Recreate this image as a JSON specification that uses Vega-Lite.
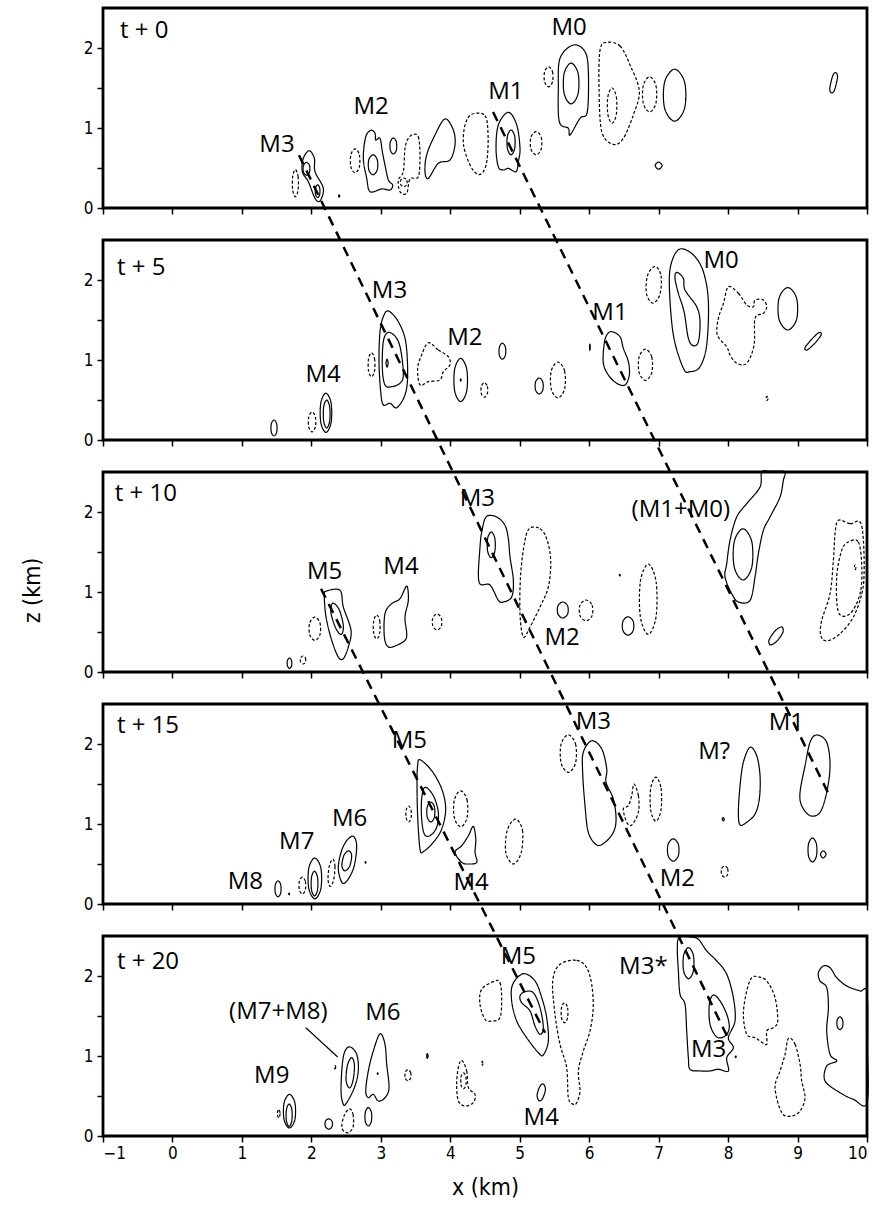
{
"$schema":"https://vega.github.io/schema/vega-lite/v6.json",
"width":764,"height":1128,
"autosize":{"type":"none"},
"padding":{"left":103,"top":8,"right":11,"bottom":69},
"config":{"view":{"stroke":null},"axis":{"grid":false,"domain":false,"ticks":true,"tickColor":"black","tickWidth":1.5,"tickSize":6,"labelFont":"'Liberation Sans Narrow', 'DejaVu Sans Condensed', 'Liberation Sans', sans-serif","labelFontSize":17,"labelColor":"black","labelPadding":4,"titleFont":"'Liberation Sans Narrow', 'DejaVu Sans Condensed', 'Liberation Sans', sans-serif","titleFontSize":23,"titleFontWeight":"normal","titleColor":"black"}},
"datasets":{
"contours":[
{"c":1,"s":"-","x":1.77,"z":0.48},{"c":1,"s":"-","x":1.809,"z":0.395},{"c":1,"s":"-","x":1.809,"z":0.225},{"c":1,"s":"-","x":1.77,"z":0.14},{"c":1,"s":"-","x":1.731,"z":0.225},{"c":1,"s":"-","x":1.731,"z":0.395},
{"c":2,"s":"+","x":1.97,"z":0.716},{"c":2,"s":"+","x":2.043,"z":0.621},{"c":2,"s":"+","x":2.053,"z":0.454},{"c":2,"s":"+","x":2.172,"z":0.246},{"c":2,"s":"+","x":2.124,"z":0.088},{"c":2,"s":"+","x":2.053,"z":0.121},{"c":2,"s":"+","x":1.956,"z":0.329},{"c":2,"s":"+","x":1.87,"z":0.454},{"c":2,"s":"+","x":1.884,"z":0.621},
{"c":3,"s":"+","x":1.93,"z":0.57},{"c":3,"s":"+","x":1.974,"z":0.53},{"c":3,"s":"+","x":1.974,"z":0.45},{"c":3,"s":"+","x":1.93,"z":0.41},{"c":3,"s":"+","x":1.886,"z":0.45},{"c":3,"s":"+","x":1.886,"z":0.53},
{"c":4,"s":"+","x":2.09,"z":0.29},{"c":4,"s":"+","x":2.12,"z":0.25},{"c":4,"s":"+","x":2.12,"z":0.17},{"c":4,"s":"+","x":2.09,"z":0.13},{"c":4,"s":"+","x":2.06,"z":0.17},{"c":4,"s":"+","x":2.06,"z":0.25},
{"c":5,"s":"+","x":2.4,"z":0.165},{"c":5,"s":"+","x":2.408,"z":0.15},{"c":5,"s":"+","x":2.4,"z":0.135},{"c":5,"s":"+","x":2.392,"z":0.15},
{"c":6,"s":"-","x":2.63,"z":0.74},{"c":6,"s":"-","x":2.691,"z":0.665},{"c":6,"s":"-","x":2.691,"z":0.515},{"c":6,"s":"-","x":2.63,"z":0.44},{"c":6,"s":"-","x":2.569,"z":0.515},{"c":6,"s":"-","x":2.569,"z":0.665},
{"c":7,"s":"+","x":2.783,"z":0.891},{"c":7,"s":"+","x":2.859,"z":0.971},{"c":7,"s":"+","x":2.917,"z":0.934},{"c":7,"s":"+","x":2.927,"z":0.85},{"c":7,"s":"+","x":2.989,"z":0.871},{"c":7,"s":"+","x":3.022,"z":0.704},{"c":7,"s":"+","x":3.06,"z":0.538},{"c":7,"s":"+","x":3.108,"z":0.35},{"c":7,"s":"+","x":3.171,"z":0.288},{"c":7,"s":"+","x":3.132,"z":0.225},{"c":7,"s":"+","x":3.013,"z":0.238},{"c":7,"s":"+","x":2.845,"z":0.204},{"c":7,"s":"+","x":2.797,"z":0.371},{"c":7,"s":"+","x":2.748,"z":0.621},
{"c":8,"s":"+","x":2.888,"z":0.665},{"c":8,"s":"+","x":2.949,"z":0.603},{"c":8,"s":"+","x":2.949,"z":0.478},{"c":8,"s":"+","x":2.888,"z":0.415},{"c":8,"s":"+","x":2.827,"z":0.478},{"c":8,"s":"+","x":2.827,"z":0.603},
{"c":9,"s":"+","x":3.18,"z":0.875},{"c":9,"s":"+","x":3.224,"z":0.825},{"c":9,"s":"+","x":3.224,"z":0.725},{"c":9,"s":"+","x":3.18,"z":0.675},{"c":9,"s":"+","x":3.137,"z":0.725},{"c":9,"s":"+","x":3.137,"z":0.825},
{"c":10,"s":"-","x":3.468,"z":0.921},{"c":10,"s":"-","x":3.54,"z":0.891},{"c":10,"s":"-","x":3.564,"z":0.663},{"c":10,"s":"-","x":3.54,"z":0.391},{"c":10,"s":"-","x":3.42,"z":0.363},{"c":10,"s":"-","x":3.373,"z":0.184},{"c":10,"s":"-","x":3.276,"z":0.204},{"c":10,"s":"-","x":3.252,"z":0.35},{"c":10,"s":"-","x":3.324,"z":0.454},{"c":10,"s":"-","x":3.348,"z":0.746},{"c":10,"s":"-","x":3.396,"z":0.871},
{"c":11,"s":"-","x":3.33,"z":0.375},{"c":11,"s":"-","x":3.374,"z":0.348},{"c":11,"s":"-","x":3.374,"z":0.293},{"c":11,"s":"-","x":3.33,"z":0.265},{"c":11,"s":"-","x":3.287,"z":0.293},{"c":11,"s":"-","x":3.287,"z":0.348},
{"c":12,"s":"+","x":3.924,"z":1.113},{"c":12,"s":"+","x":4.044,"z":0.975},{"c":12,"s":"+","x":4.068,"z":0.788},{"c":12,"s":"+","x":3.996,"z":0.6},{"c":12,"s":"+","x":3.828,"z":0.559},{"c":12,"s":"+","x":3.684,"z":0.371},{"c":12,"s":"+","x":3.636,"z":0.454},{"c":12,"s":"+","x":3.66,"z":0.663},{"c":12,"s":"+","x":3.78,"z":0.913},
{"c":13,"s":"-","x":4.309,"z":1.171},{"c":13,"s":"-","x":4.5,"z":1.156},{"c":13,"s":"-","x":4.544,"z":0.913},{"c":13,"s":"-","x":4.529,"z":0.6},{"c":13,"s":"-","x":4.472,"z":0.45},{"c":13,"s":"-","x":4.385,"z":0.425},{"c":13,"s":"-","x":4.285,"z":0.538},{"c":13,"s":"-","x":4.191,"z":0.788},{"c":13,"s":"-","x":4.213,"z":1.038},
{"c":14,"s":"+","x":4.836,"z":1.196},{"c":14,"s":"+","x":4.957,"z":1.038},{"c":14,"s":"+","x":5.004,"z":0.746},{"c":14,"s":"+","x":4.98,"z":0.579},{"c":14,"s":"+","x":4.947,"z":0.454},{"c":14,"s":"+","x":4.836,"z":0.496},{"c":14,"s":"+","x":4.764,"z":0.475},{"c":14,"s":"+","x":4.692,"z":0.516},{"c":14,"s":"+","x":4.659,"z":0.746},{"c":14,"s":"+","x":4.692,"z":1.038},
{"c":15,"s":"+","x":4.875,"z":0.975},{"c":15,"s":"+","x":4.927,"z":0.898},{"c":15,"s":"+","x":4.927,"z":0.743},{"c":15,"s":"+","x":4.875,"z":0.665},{"c":15,"s":"+","x":4.823,"z":0.743},{"c":15,"s":"+","x":4.823,"z":0.898},
{"c":16,"s":"-","x":5.235,"z":0.955},{"c":16,"s":"-","x":5.309,"z":0.883},{"c":16,"s":"-","x":5.309,"z":0.738},{"c":16,"s":"-","x":5.235,"z":0.665},{"c":16,"s":"-","x":5.161,"z":0.738},{"c":16,"s":"-","x":5.161,"z":0.883},
{"c":17,"s":"-","x":5.415,"z":1.765},{"c":17,"s":"-","x":5.472,"z":1.703},{"c":17,"s":"-","x":5.472,"z":1.578},{"c":17,"s":"-","x":5.415,"z":1.515},{"c":17,"s":"-","x":5.358,"z":1.578},{"c":17,"s":"-","x":5.358,"z":1.703},
{"c":18,"s":"+","x":5.772,"z":2.038},{"c":18,"s":"+","x":5.94,"z":1.954},{"c":18,"s":"+","x":5.988,"z":1.704},{"c":18,"s":"+","x":5.973,"z":1.204},{"c":18,"s":"+","x":5.868,"z":1.121},{"c":18,"s":"+","x":5.724,"z":0.913},{"c":18,"s":"+","x":5.7,"z":0.996},{"c":18,"s":"+","x":5.57,"z":1.079},{"c":18,"s":"+","x":5.556,"z":1.496},{"c":18,"s":"+","x":5.58,"z":1.871},
{"c":19,"s":"+","x":5.74,"z":1.811},{"c":19,"s":"+","x":5.84,"z":1.684},{"c":19,"s":"+","x":5.84,"z":1.429},{"c":19,"s":"+","x":5.74,"z":1.301},{"c":19,"s":"+","x":5.64,"z":1.429},{"c":19,"s":"+","x":5.64,"z":1.684},
{"c":20,"s":"-","x":6.253,"z":2.071},{"c":20,"s":"-","x":6.444,"z":2.025},{"c":20,"s":"-","x":6.588,"z":1.788},{"c":20,"s":"-","x":6.722,"z":1.463},{"c":20,"s":"-","x":6.636,"z":1.163},{"c":20,"s":"-","x":6.492,"z":0.871},{"c":20,"s":"-","x":6.348,"z":0.796},{"c":20,"s":"-","x":6.181,"z":0.954},{"c":20,"s":"-","x":6.142,"z":1.5},{"c":20,"s":"-","x":6.156,"z":1.975},
{"c":21,"s":"-","x":6.87,"z":1.64},{"c":21,"s":"-","x":6.961,"z":1.53},{"c":21,"s":"-","x":6.961,"z":1.31},{"c":21,"s":"-","x":6.87,"z":1.2},{"c":21,"s":"-","x":6.779,"z":1.31},{"c":21,"s":"-","x":6.779,"z":1.53},
{"c":22,"s":"-","x":6.33,"z":1.5},{"c":22,"s":"-","x":6.391,"z":1.39},{"c":22,"s":"-","x":6.391,"z":1.17},{"c":22,"s":"-","x":6.33,"z":1.06},{"c":22,"s":"-","x":6.269,"z":1.17},{"c":22,"s":"-","x":6.269,"z":1.39},
{"c":23,"s":"+","x":7.23,"z":1.735},{"c":23,"s":"+","x":7.374,"z":1.573},{"c":23,"s":"+","x":7.374,"z":1.248},{"c":23,"s":"+","x":7.23,"z":1.085},{"c":23,"s":"+","x":7.086,"z":1.248},{"c":23,"s":"+","x":7.086,"z":1.573},
{"c":24,"s":"+","x":7.0,"z":0.575},{"c":24,"s":"+","x":7.05,"z":0.53},{"c":24,"s":"+","x":7.0,"z":0.485},{"c":24,"s":"+","x":6.95,"z":0.53},
{"c":25,"s":"+","x":9.554,"z":1.69},{"c":25,"s":"+","x":9.575,"z":1.63},{"c":25,"s":"+","x":9.53,"z":1.47},{"c":25,"s":"+","x":9.482,"z":1.44},{"c":25,"s":"+","x":9.465,"z":1.5},{"c":25,"s":"+","x":9.51,"z":1.66},
{"c":26,"s":"+","x":1.462,"z":0.25},{"c":26,"s":"+","x":1.501,"z":0.2},{"c":26,"s":"+","x":1.501,"z":0.1},{"c":26,"s":"+","x":1.462,"z":0.05},{"c":26,"s":"+","x":1.423,"z":0.1},{"c":26,"s":"+","x":1.423,"z":0.2},
{"c":27,"s":"-","x":2.01,"z":0.35},{"c":27,"s":"-","x":2.058,"z":0.288},{"c":27,"s":"-","x":2.058,"z":0.163},{"c":27,"s":"-","x":2.01,"z":0.1},{"c":27,"s":"-","x":1.962,"z":0.163},{"c":27,"s":"-","x":1.962,"z":0.288},
{"c":28,"s":"+","x":2.21,"z":0.585},{"c":28,"s":"+","x":2.284,"z":0.463},{"c":28,"s":"+","x":2.284,"z":0.218},{"c":28,"s":"+","x":2.21,"z":0.095},{"c":28,"s":"+","x":2.136,"z":0.218},{"c":28,"s":"+","x":2.136,"z":0.463},
{"c":29,"s":"+","x":2.22,"z":0.5},{"c":29,"s":"+","x":2.264,"z":0.413},{"c":29,"s":"+","x":2.264,"z":0.238},{"c":29,"s":"+","x":2.22,"z":0.15},{"c":29,"s":"+","x":2.177,"z":0.238},{"c":29,"s":"+","x":2.177,"z":0.413},
{"c":30,"s":"+","x":3.108,"z":1.613},{"c":30,"s":"+","x":3.252,"z":1.479},{"c":30,"s":"+","x":3.358,"z":1.229},{"c":30,"s":"+","x":3.386,"z":0.813},{"c":30,"s":"+","x":3.348,"z":0.563},{"c":30,"s":"+","x":3.229,"z":0.404},{"c":30,"s":"+","x":3.132,"z":0.459},{"c":30,"s":"+","x":3.036,"z":0.438},{"c":30,"s":"+","x":2.998,"z":0.604},{"c":30,"s":"+","x":2.974,"z":0.979},{"c":30,"s":"+","x":2.988,"z":1.354},{"c":30,"s":"+","x":3.036,"z":1.541},
{"c":31,"s":"+","x":3.108,"z":1.346},{"c":31,"s":"+","x":3.229,"z":1.271},{"c":31,"s":"+","x":3.291,"z":1.104},{"c":31,"s":"+","x":3.324,"z":0.813},{"c":31,"s":"+","x":3.276,"z":0.709},{"c":31,"s":"+","x":3.157,"z":0.666},{"c":31,"s":"+","x":3.06,"z":0.688},{"c":31,"s":"+","x":3.022,"z":0.896},{"c":31,"s":"+","x":3.036,"z":1.229},
{"c":32,"s":"+","x":3.09,"z":1.01},{"c":32,"s":"+","x":3.105,"z":0.96},{"c":32,"s":"+","x":3.09,"z":0.91},{"c":32,"s":"+","x":3.075,"z":0.96},
{"c":33,"s":"-","x":2.866,"z":1.09},{"c":33,"s":"-","x":2.91,"z":1.015},{"c":33,"s":"-","x":2.91,"z":0.865},{"c":33,"s":"-","x":2.866,"z":0.79},{"c":33,"s":"-","x":2.823,"z":0.865},{"c":33,"s":"-","x":2.823,"z":1.015},
{"c":34,"s":"-","x":3.684,"z":1.216},{"c":34,"s":"-","x":3.828,"z":1.125},{"c":34,"s":"-","x":3.972,"z":1.041},{"c":34,"s":"-","x":3.996,"z":0.938},{"c":34,"s":"-","x":3.9,"z":0.854},{"c":34,"s":"-","x":3.852,"z":0.75},{"c":34,"s":"-","x":3.684,"z":0.729},{"c":34,"s":"-","x":3.564,"z":0.688},{"c":34,"s":"-","x":3.53,"z":0.896},{"c":34,"s":"-","x":3.588,"z":1.063},
{"c":35,"s":"+","x":4.15,"z":1.02},{"c":35,"s":"+","x":4.237,"z":0.885},{"c":35,"s":"+","x":4.237,"z":0.615},{"c":35,"s":"+","x":4.15,"z":0.48},{"c":35,"s":"+","x":4.063,"z":0.615},{"c":35,"s":"+","x":4.063,"z":0.885},
{"c":36,"s":"+","x":4.15,"z":0.765},{"c":36,"s":"+","x":4.156,"z":0.75},{"c":36,"s":"+","x":4.15,"z":0.735},{"c":36,"s":"+","x":4.144,"z":0.75},
{"c":37,"s":"-","x":4.49,"z":0.715},{"c":37,"s":"-","x":4.534,"z":0.67},{"c":37,"s":"-","x":4.534,"z":0.58},{"c":37,"s":"-","x":4.49,"z":0.535},{"c":37,"s":"-","x":4.447,"z":0.58},{"c":37,"s":"-","x":4.447,"z":0.67},
{"c":38,"s":"+","x":4.75,"z":1.21},{"c":38,"s":"+","x":4.794,"z":1.16},{"c":38,"s":"+","x":4.794,"z":1.06},{"c":38,"s":"+","x":4.75,"z":1.01},{"c":38,"s":"+","x":4.707,"z":1.06},{"c":38,"s":"+","x":4.707,"z":1.16},
{"c":39,"s":"+","x":5.28,"z":0.775},{"c":39,"s":"+","x":5.332,"z":0.725},{"c":39,"s":"+","x":5.332,"z":0.625},{"c":39,"s":"+","x":5.28,"z":0.575},{"c":39,"s":"+","x":5.228,"z":0.625},{"c":39,"s":"+","x":5.228,"z":0.725},
{"c":40,"s":"-","x":5.55,"z":0.975},{"c":40,"s":"-","x":5.646,"z":0.863},{"c":40,"s":"-","x":5.646,"z":0.638},{"c":40,"s":"-","x":5.55,"z":0.525},{"c":40,"s":"-","x":5.454,"z":0.638},{"c":40,"s":"-","x":5.454,"z":0.863},
{"c":41,"s":"+","x":6.01,"z":1.2},{"c":41,"s":"+","x":6.015,"z":1.16},{"c":41,"s":"+","x":6.01,"z":1.12},{"c":41,"s":"+","x":6.005,"z":1.16},
{"c":42,"s":"+","x":6.325,"z":1.354},{"c":42,"s":"+","x":6.444,"z":1.291},{"c":42,"s":"+","x":6.492,"z":1.146},{"c":42,"s":"+","x":6.564,"z":0.979},{"c":42,"s":"+","x":6.578,"z":0.813},{"c":42,"s":"+","x":6.516,"z":0.688},{"c":42,"s":"+","x":6.396,"z":0.709},{"c":42,"s":"+","x":6.276,"z":0.813},{"c":42,"s":"+","x":6.204,"z":0.959},{"c":42,"s":"+","x":6.214,"z":1.188},{"c":42,"s":"+","x":6.253,"z":1.313},
{"c":43,"s":"-","x":6.81,"z":1.135},{"c":43,"s":"-","x":6.901,"z":1.038},{"c":43,"s":"-","x":6.901,"z":0.843},{"c":43,"s":"-","x":6.81,"z":0.745},{"c":43,"s":"-","x":6.719,"z":0.843},{"c":43,"s":"-","x":6.719,"z":1.038},
{"c":44,"s":"-","x":6.95,"z":2.17},{"c":44,"s":"-","x":7.034,"z":2.055},{"c":44,"s":"-","x":7.02,"z":1.825},{"c":44,"s":"-","x":6.92,"z":1.71},{"c":44,"s":"-","x":6.826,"z":1.825},{"c":44,"s":"-","x":6.84,"z":2.055},
{"c":45,"s":"+","x":7.308,"z":2.388},{"c":45,"s":"+","x":7.5,"z":2.313},{"c":45,"s":"+","x":7.644,"z":2.104},{"c":45,"s":"+","x":7.716,"z":1.729},{"c":45,"s":"+","x":7.692,"z":1.188},{"c":45,"s":"+","x":7.596,"z":0.916},{"c":45,"s":"+","x":7.452,"z":0.854},{"c":45,"s":"+","x":7.356,"z":0.896},{"c":45,"s":"+","x":7.212,"z":1.313},{"c":45,"s":"+","x":7.154,"z":1.938},{"c":45,"s":"+","x":7.189,"z":2.229},
{"c":46,"s":"+","x":7.261,"z":2.096},{"c":46,"s":"+","x":7.356,"z":2.021},{"c":46,"s":"+","x":7.38,"z":1.875},{"c":46,"s":"+","x":7.548,"z":1.666},{"c":46,"s":"+","x":7.596,"z":1.479},{"c":46,"s":"+","x":7.572,"z":1.229},{"c":46,"s":"+","x":7.5,"z":1.179},{"c":46,"s":"+","x":7.428,"z":1.271},{"c":46,"s":"+","x":7.366,"z":1.604},{"c":46,"s":"+","x":7.284,"z":1.834},{"c":46,"s":"+","x":7.236,"z":2.021},
{"c":47,"s":"-","x":8.004,"z":1.916},{"c":47,"s":"-","x":8.148,"z":1.834},{"c":47,"s":"-","x":8.269,"z":1.688},{"c":47,"s":"-","x":8.364,"z":1.666},{"c":47,"s":"-","x":8.388,"z":1.75},{"c":47,"s":"-","x":8.508,"z":1.75},{"c":47,"s":"-","x":8.556,"z":1.666},{"c":47,"s":"-","x":8.508,"z":1.584},{"c":47,"s":"-","x":8.388,"z":1.521},{"c":47,"s":"-","x":8.374,"z":1.188},{"c":47,"s":"-","x":8.269,"z":0.959},{"c":47,"s":"-","x":8.125,"z":0.959},{"c":47,"s":"-","x":8.028,"z":1.063},{"c":47,"s":"-","x":7.98,"z":1.166},{"c":47,"s":"-","x":7.845,"z":1.313},{"c":47,"s":"-","x":7.86,"z":1.521},{"c":47,"s":"-","x":7.932,"z":1.704},
{"c":48,"s":"+","x":8.86,"z":1.905},{"c":48,"s":"+","x":8.986,"z":1.773},{"c":48,"s":"+","x":8.986,"z":1.508},{"c":48,"s":"+","x":8.86,"z":1.375},{"c":48,"s":"+","x":8.734,"z":1.508},{"c":48,"s":"+","x":8.734,"z":1.773},
{"c":49,"s":"+","x":9.31,"z":1.344},{"c":49,"s":"+","x":9.339,"z":1.313},{"c":49,"s":"+","x":9.238,"z":1.2},{"c":49,"s":"+","x":9.137,"z":1.125},{"c":49,"s":"+","x":9.108,"z":1.156},{"c":49,"s":"+","x":9.209,"z":1.263},
{"c":50,"s":"-","x":8.56,"z":0.545},{"c":50,"s":"-","x":8.575,"z":0.52},{"c":50,"s":"-","x":8.56,"z":0.495},{"c":50,"s":"-","x":8.545,"z":0.52},
{"c":51,"s":"+","x":1.685,"z":0.175},{"c":51,"s":"+","x":1.715,"z":0.143},{"c":51,"s":"+","x":1.715,"z":0.078},{"c":51,"s":"+","x":1.685,"z":0.045},{"c":51,"s":"+","x":1.655,"z":0.078},{"c":51,"s":"+","x":1.655,"z":0.143},
{"c":52,"s":"-","x":1.88,"z":0.2},{"c":52,"s":"-","x":1.915,"z":0.175},{"c":52,"s":"-","x":1.915,"z":0.125},{"c":52,"s":"-","x":1.88,"z":0.1},{"c":52,"s":"-","x":1.845,"z":0.125},{"c":52,"s":"-","x":1.845,"z":0.175},
{"c":53,"s":"-","x":2.05,"z":0.685},{"c":53,"s":"-","x":2.124,"z":0.613},{"c":53,"s":"-","x":2.124,"z":0.468},{"c":53,"s":"-","x":2.05,"z":0.395},{"c":53,"s":"-","x":1.976,"z":0.468},{"c":53,"s":"-","x":1.976,"z":0.613},
{"c":54,"s":"+","x":2.221,"z":1.013},{"c":54,"s":"+","x":2.413,"z":1.021},{"c":54,"s":"+","x":2.46,"z":0.813},{"c":54,"s":"+","x":2.571,"z":0.521},{"c":54,"s":"+","x":2.532,"z":0.313},{"c":54,"s":"+","x":2.46,"z":0.166},{"c":54,"s":"+","x":2.388,"z":0.188},{"c":54,"s":"+","x":2.293,"z":0.396},{"c":54,"s":"+","x":2.211,"z":0.688},{"c":54,"s":"+","x":2.187,"z":0.959},
{"c":55,"s":"+","x":2.31,"z":0.86},{"c":55,"s":"+","x":2.4,"z":0.78},{"c":55,"s":"+","x":2.46,"z":0.58},{"c":55,"s":"+","x":2.43,"z":0.47},{"c":55,"s":"+","x":2.35,"z":0.55},{"c":55,"s":"+","x":2.28,"z":0.75},
{"c":56,"s":"+","x":3.373,"z":1.075},{"c":56,"s":"+","x":3.396,"z":0.896},{"c":56,"s":"+","x":3.348,"z":0.688},{"c":56,"s":"+","x":3.373,"z":0.479},{"c":56,"s":"+","x":3.348,"z":0.396},{"c":56,"s":"+","x":3.229,"z":0.334},{"c":56,"s":"+","x":3.108,"z":0.313},{"c":56,"s":"+","x":3.051,"z":0.438},{"c":56,"s":"+","x":3.06,"z":0.729},{"c":56,"s":"+","x":3.156,"z":0.854},{"c":56,"s":"+","x":3.276,"z":0.916},
{"c":57,"s":"-","x":2.94,"z":0.713},{"c":57,"s":"-","x":2.984,"z":0.638},{"c":57,"s":"-","x":2.984,"z":0.488},{"c":57,"s":"-","x":2.94,"z":0.413},{"c":57,"s":"-","x":2.897,"z":0.488},{"c":57,"s":"-","x":2.897,"z":0.638},
{"c":58,"s":"-","x":3.81,"z":0.725},{"c":58,"s":"-","x":3.871,"z":0.675},{"c":58,"s":"-","x":3.871,"z":0.575},{"c":58,"s":"-","x":3.81,"z":0.525},{"c":58,"s":"-","x":3.749,"z":0.575},{"c":58,"s":"-","x":3.749,"z":0.675},
{"c":59,"s":"+","x":4.525,"z":1.946},{"c":59,"s":"+","x":4.669,"z":1.938},{"c":59,"s":"+","x":4.788,"z":1.834},{"c":59,"s":"+","x":4.836,"z":1.666},{"c":59,"s":"+","x":4.86,"z":1.438},{"c":59,"s":"+","x":4.908,"z":1.146},{"c":59,"s":"+","x":4.884,"z":0.938},{"c":59,"s":"+","x":4.764,"z":0.875},{"c":59,"s":"+","x":4.692,"z":0.896},{"c":59,"s":"+","x":4.572,"z":1.088},{"c":59,"s":"+","x":4.414,"z":1.125},{"c":59,"s":"+","x":4.428,"z":1.563},{"c":59,"s":"+","x":4.464,"z":1.8},
{"c":60,"s":"+","x":4.59,"z":1.75},{"c":60,"s":"+","x":4.642,"z":1.67},{"c":60,"s":"+","x":4.642,"z":1.51},{"c":60,"s":"+","x":4.59,"z":1.43},{"c":60,"s":"+","x":4.538,"z":1.51},{"c":60,"s":"+","x":4.538,"z":1.67},
{"c":61,"s":"-","x":5.148,"z":1.8},{"c":61,"s":"-","x":5.292,"z":1.791},{"c":61,"s":"-","x":5.388,"z":1.666},{"c":61,"s":"-","x":5.446,"z":1.396},{"c":61,"s":"-","x":5.412,"z":1.063},{"c":61,"s":"-","x":5.292,"z":0.813},{"c":61,"s":"-","x":5.148,"z":0.563},{"c":61,"s":"-","x":5.052,"z":0.438},{"c":61,"s":"-","x":5.004,"z":0.729},{"c":61,"s":"-","x":5.014,"z":1.229},{"c":61,"s":"-","x":5.076,"z":1.646},
{"c":62,"s":"+","x":5.62,"z":0.875},{"c":62,"s":"+","x":5.69,"z":0.825},{"c":62,"s":"+","x":5.69,"z":0.725},{"c":62,"s":"+","x":5.62,"z":0.675},{"c":62,"s":"+","x":5.55,"z":0.725},{"c":62,"s":"+","x":5.55,"z":0.825},
{"c":63,"s":"-","x":5.955,"z":0.9},{"c":63,"s":"-","x":6.042,"z":0.835},{"c":63,"s":"-","x":6.042,"z":0.705},{"c":63,"s":"-","x":5.955,"z":0.64},{"c":63,"s":"-","x":5.868,"z":0.705},{"c":63,"s":"-","x":5.868,"z":0.835},
{"c":64,"s":"+","x":6.44,"z":1.22},{"c":64,"s":"+","x":6.447,"z":1.21},{"c":64,"s":"+","x":6.44,"z":1.2},{"c":64,"s":"+","x":6.433,"z":1.21},
{"c":65,"s":"+","x":6.56,"z":0.69},{"c":65,"s":"+","x":6.634,"z":0.633},{"c":65,"s":"+","x":6.634,"z":0.518},{"c":65,"s":"+","x":6.56,"z":0.46},{"c":65,"s":"+","x":6.486,"z":0.518},{"c":65,"s":"+","x":6.486,"z":0.633},
{"c":66,"s":"-","x":6.85,"z":1.35},{"c":66,"s":"-","x":6.963,"z":1.13},{"c":66,"s":"-","x":6.963,"z":0.69},{"c":66,"s":"-","x":6.85,"z":0.47},{"c":66,"s":"-","x":6.737,"z":0.69},{"c":66,"s":"-","x":6.737,"z":1.13},
{"c":67,"s":"+","x":8.485,"z":2.5},{"c":67,"s":"+","x":8.6,"z":2.51},{"c":67,"s":"+","x":8.72,"z":2.51},{"c":67,"s":"+","x":8.82,"z":2.5},{"c":67,"s":"+","x":8.796,"z":2.396},{"c":67,"s":"+","x":8.748,"z":2.188},{"c":67,"s":"+","x":8.604,"z":1.938},{"c":67,"s":"+","x":8.508,"z":1.771},{"c":67,"s":"+","x":8.436,"z":1.479},{"c":67,"s":"+","x":8.388,"z":1.188},{"c":67,"s":"+","x":8.316,"z":0.896},{"c":67,"s":"+","x":8.148,"z":0.875},{"c":67,"s":"+","x":8.053,"z":0.979},{"c":67,"s":"+","x":7.956,"z":1.188},{"c":67,"s":"+","x":7.98,"z":1.354},{"c":67,"s":"+","x":8.028,"z":1.646},{"c":67,"s":"+","x":8.124,"z":1.938},{"c":67,"s":"+","x":8.268,"z":2.104},{"c":67,"s":"+","x":8.46,"z":2.313},
{"c":68,"s":"+","x":8.215,"z":1.79},{"c":68,"s":"+","x":8.341,"z":1.63},{"c":68,"s":"+","x":8.341,"z":1.31},{"c":68,"s":"+","x":8.215,"z":1.15},{"c":68,"s":"+","x":8.089,"z":1.31},{"c":68,"s":"+","x":8.089,"z":1.63},
{"c":69,"s":"+","x":8.77,"z":0.563},{"c":69,"s":"+","x":8.79,"z":0.5},{"c":69,"s":"+","x":8.705,"z":0.388},{"c":69,"s":"+","x":8.61,"z":0.338},{"c":69,"s":"+","x":8.59,"z":0.4},{"c":69,"s":"+","x":8.676,"z":0.513},
{"c":70,"s":"-","x":9.588,"z":1.896},{"c":70,"s":"-","x":9.756,"z":1.854},{"c":70,"s":"-","x":9.9,"z":1.875},{"c":70,"s":"-","x":9.948,"z":1.646},{"c":70,"s":"-","x":9.958,"z":1.229},{"c":70,"s":"-","x":9.925,"z":0.979},{"c":70,"s":"-","x":9.804,"z":0.688},{"c":70,"s":"-","x":9.612,"z":0.479},{"c":70,"s":"-","x":9.421,"z":0.388},{"c":70,"s":"-","x":9.334,"z":0.459},{"c":70,"s":"-","x":9.348,"z":0.646},{"c":70,"s":"-","x":9.468,"z":0.979},{"c":70,"s":"-","x":9.516,"z":1.396},{"c":70,"s":"-","x":9.54,"z":1.729},
{"c":71,"s":"-","x":9.732,"z":1.625},{"c":71,"s":"-","x":9.876,"z":1.625},{"c":71,"s":"-","x":9.925,"z":1.313},{"c":71,"s":"-","x":9.9,"z":0.979},{"c":71,"s":"-","x":9.756,"z":0.729},{"c":71,"s":"-","x":9.588,"z":0.75},{"c":71,"s":"-","x":9.564,"z":1.188},{"c":71,"s":"-","x":9.636,"z":1.521},
{"c":72,"s":"-","x":9.83,"z":1.34},{"c":72,"s":"-","x":9.84,"z":1.31},{"c":72,"s":"-","x":9.83,"z":1.28},{"c":72,"s":"-","x":9.82,"z":1.31},
{"c":73,"s":"+","x":1.52,"z":0.29},{"c":73,"s":"+","x":1.559,"z":0.24},{"c":73,"s":"+","x":1.559,"z":0.14},{"c":73,"s":"+","x":1.52,"z":0.09},{"c":73,"s":"+","x":1.481,"z":0.14},{"c":73,"s":"+","x":1.481,"z":0.24},
{"c":74,"s":"+","x":1.68,"z":0.135},{"c":74,"s":"+","x":1.687,"z":0.125},{"c":74,"s":"+","x":1.68,"z":0.115},{"c":74,"s":"+","x":1.673,"z":0.125},
{"c":75,"s":"-","x":1.87,"z":0.335},{"c":75,"s":"-","x":1.914,"z":0.283},{"c":75,"s":"-","x":1.914,"z":0.178},{"c":75,"s":"-","x":1.87,"z":0.125},{"c":75,"s":"-","x":1.827,"z":0.178},{"c":75,"s":"-","x":1.827,"z":0.283},
{"c":76,"s":"+","x":2.05,"z":0.575},{"c":76,"s":"+","x":2.137,"z":0.448},{"c":76,"s":"+","x":2.137,"z":0.193},{"c":76,"s":"+","x":2.05,"z":0.065},{"c":76,"s":"+","x":1.963,"z":0.193},{"c":76,"s":"+","x":1.963,"z":0.448},
{"c":77,"s":"+","x":2.045,"z":0.41},{"c":77,"s":"+","x":2.089,"z":0.333},{"c":77,"s":"+","x":2.089,"z":0.178},{"c":77,"s":"+","x":2.045,"z":0.1},{"c":77,"s":"+","x":2.002,"z":0.178},{"c":77,"s":"+","x":2.002,"z":0.333},
{"c":78,"s":"-","x":2.31,"z":0.56},{"c":78,"s":"-","x":2.34,"z":0.47},{"c":78,"s":"-","x":2.32,"z":0.3},{"c":78,"s":"-","x":2.27,"z":0.22},{"c":78,"s":"-","x":2.24,"z":0.31},{"c":78,"s":"-","x":2.26,"z":0.48},
{"c":79,"s":"+","x":2.604,"z":0.846},{"c":79,"s":"+","x":2.652,"z":0.729},{"c":79,"s":"+","x":2.618,"z":0.479},{"c":79,"s":"+","x":2.532,"z":0.313},{"c":79,"s":"+","x":2.446,"z":0.263},{"c":79,"s":"+","x":2.388,"z":0.438},{"c":79,"s":"+","x":2.427,"z":0.646},{"c":79,"s":"+","x":2.508,"z":0.791},
{"c":80,"s":"+","x":2.54,"z":0.665},{"c":80,"s":"+","x":2.58,"z":0.6},{"c":80,"s":"+","x":2.55,"z":0.47},{"c":80,"s":"+","x":2.48,"z":0.415},{"c":80,"s":"+","x":2.44,"z":0.48},{"c":80,"s":"+","x":2.47,"z":0.61},
{"c":81,"s":"+","x":2.78,"z":0.53},{"c":81,"s":"+","x":2.787,"z":0.52},{"c":81,"s":"+","x":2.78,"z":0.51},{"c":81,"s":"+","x":2.773,"z":0.52},
{"c":82,"s":"-","x":3.4,"z":1.225},{"c":82,"s":"-","x":3.435,"z":1.175},{"c":82,"s":"-","x":3.435,"z":1.075},{"c":82,"s":"-","x":3.4,"z":1.025},{"c":82,"s":"-","x":3.365,"z":1.075},{"c":82,"s":"-","x":3.365,"z":1.175},
{"c":83,"s":"+","x":3.564,"z":1.804},{"c":83,"s":"+","x":3.733,"z":1.666},{"c":83,"s":"+","x":3.877,"z":1.438},{"c":83,"s":"+","x":3.934,"z":1.188},{"c":83,"s":"+","x":3.877,"z":0.938},{"c":83,"s":"+","x":3.756,"z":0.771},{"c":83,"s":"+","x":3.612,"z":0.654},{"c":83,"s":"+","x":3.564,"z":0.688},{"c":83,"s":"+","x":3.53,"z":1.104},{"c":83,"s":"+","x":3.521,"z":1.521},{"c":83,"s":"+","x":3.53,"z":1.729},
{"c":84,"s":"+","x":3.636,"z":1.459},{"c":84,"s":"+","x":3.756,"z":1.354},{"c":84,"s":"+","x":3.828,"z":1.146},{"c":84,"s":"+","x":3.804,"z":0.959},{"c":84,"s":"+","x":3.708,"z":0.854},{"c":84,"s":"+","x":3.626,"z":0.875},{"c":84,"s":"+","x":3.588,"z":1.063},{"c":84,"s":"+","x":3.588,"z":1.313},
{"c":85,"s":"+","x":3.72,"z":1.275},{"c":85,"s":"+","x":3.772,"z":1.213},{"c":85,"s":"+","x":3.772,"z":1.088},{"c":85,"s":"+","x":3.72,"z":1.025},{"c":85,"s":"+","x":3.668,"z":1.088},{"c":85,"s":"+","x":3.668,"z":1.213},
{"c":86,"s":"-","x":4.15,"z":1.415},{"c":86,"s":"-","x":4.241,"z":1.303},{"c":86,"s":"-","x":4.241,"z":1.078},{"c":86,"s":"-","x":4.15,"z":0.965},{"c":86,"s":"-","x":4.059,"z":1.078},{"c":86,"s":"-","x":4.059,"z":1.303},
{"c":87,"s":"+","x":4.332,"z":0.971},{"c":87,"s":"+","x":4.367,"z":0.813},{"c":87,"s":"+","x":4.357,"z":0.646},{"c":87,"s":"+","x":4.381,"z":0.521},{"c":87,"s":"+","x":4.261,"z":0.5},{"c":87,"s":"+","x":4.165,"z":0.521},{"c":87,"s":"+","x":4.068,"z":0.646},{"c":87,"s":"+","x":4.165,"z":0.729},{"c":87,"s":"+","x":4.261,"z":0.854},
{"c":88,"s":"-","x":4.94,"z":1.06},{"c":88,"s":"-","x":5.04,"z":0.92},{"c":88,"s":"-","x":5.02,"z":0.64},{"c":88,"s":"-","x":4.91,"z":0.5},{"c":88,"s":"-","x":4.8,"z":0.64},{"c":88,"s":"-","x":4.82,"z":0.92},
{"c":89,"s":"-","x":5.7,"z":2.115},{"c":89,"s":"-","x":5.804,"z":1.998},{"c":89,"s":"-","x":5.804,"z":1.763},{"c":89,"s":"-","x":5.7,"z":1.645},{"c":89,"s":"-","x":5.596,"z":1.763},{"c":89,"s":"-","x":5.596,"z":1.998},
{"c":90,"s":"+","x":6.037,"z":2.041},{"c":90,"s":"+","x":6.181,"z":1.938},{"c":90,"s":"+","x":6.253,"z":1.688},{"c":90,"s":"+","x":6.243,"z":1.521},{"c":90,"s":"+","x":6.348,"z":1.313},{"c":90,"s":"+","x":6.387,"z":1.063},{"c":90,"s":"+","x":6.348,"z":0.896},{"c":90,"s":"+","x":6.228,"z":0.771},{"c":90,"s":"+","x":6.108,"z":0.738},{"c":90,"s":"+","x":5.988,"z":0.896},{"c":90,"s":"+","x":5.94,"z":1.229},{"c":90,"s":"+","x":5.906,"z":1.646},{"c":90,"s":"+","x":5.915,"z":1.896},
{"c":91,"s":"-","x":6.646,"z":1.5},{"c":91,"s":"-","x":6.708,"z":1.354},{"c":91,"s":"-","x":6.708,"z":1.146},{"c":91,"s":"-","x":6.612,"z":0.988},{"c":91,"s":"-","x":6.54,"z":1.021},{"c":91,"s":"-","x":6.492,"z":1.188},{"c":91,"s":"-","x":6.564,"z":1.229},{"c":91,"s":"-","x":6.612,"z":1.354},
{"c":92,"s":"-","x":6.96,"z":1.585},{"c":92,"s":"-","x":7.034,"z":1.448},{"c":92,"s":"-","x":7.034,"z":1.173},{"c":92,"s":"-","x":6.96,"z":1.035},{"c":92,"s":"-","x":6.886,"z":1.173},{"c":92,"s":"-","x":6.886,"z":1.448},
{"c":93,"s":"+","x":7.21,"z":0.815},{"c":93,"s":"+","x":7.284,"z":0.745},{"c":93,"s":"+","x":7.284,"z":0.605},{"c":93,"s":"+","x":7.21,"z":0.535},{"c":93,"s":"+","x":7.136,"z":0.605},{"c":93,"s":"+","x":7.136,"z":0.745},
{"c":94,"s":"+","x":7.93,"z":1.08},{"c":94,"s":"+","x":7.945,"z":1.06},{"c":94,"s":"+","x":7.93,"z":1.04},{"c":94,"s":"+","x":7.915,"z":1.06},
{"c":95,"s":"-","x":7.95,"z":0.475},{"c":95,"s":"-","x":7.994,"z":0.44},{"c":95,"s":"-","x":7.994,"z":0.37},{"c":95,"s":"-","x":7.95,"z":0.335},{"c":95,"s":"-","x":7.907,"z":0.37},{"c":95,"s":"-","x":7.907,"z":0.44},
{"c":96,"s":"+","x":8.316,"z":1.959},{"c":96,"s":"+","x":8.412,"z":1.854},{"c":96,"s":"+","x":8.46,"z":1.604},{"c":96,"s":"+","x":8.45,"z":1.313},{"c":96,"s":"+","x":8.388,"z":1.125},{"c":96,"s":"+","x":8.268,"z":1.021},{"c":96,"s":"+","x":8.172,"z":0.988},{"c":96,"s":"+","x":8.148,"z":1.146},{"c":96,"s":"+","x":8.172,"z":1.479},{"c":96,"s":"+","x":8.22,"z":1.771},
{"c":97,"s":"+","x":9.277,"z":2.113},{"c":97,"s":"+","x":9.42,"z":2.021},{"c":97,"s":"+","x":9.468,"z":1.729},{"c":97,"s":"+","x":9.42,"z":1.396},{"c":97,"s":"+","x":9.324,"z":1.146},{"c":97,"s":"+","x":9.18,"z":1.104},{"c":97,"s":"+","x":9.06,"z":1.229},{"c":97,"s":"+","x":9.036,"z":1.396},{"c":97,"s":"+","x":9.108,"z":1.729},{"c":97,"s":"+","x":9.18,"z":2.021},
{"c":98,"s":"+","x":9.215,"z":0.825},{"c":98,"s":"+","x":9.272,"z":0.75},{"c":98,"s":"+","x":9.272,"z":0.6},{"c":98,"s":"+","x":9.215,"z":0.525},{"c":98,"s":"+","x":9.158,"z":0.6},{"c":98,"s":"+","x":9.158,"z":0.75},
{"c":99,"s":"+","x":9.37,"z":0.665},{"c":99,"s":"+","x":9.41,"z":0.62},{"c":99,"s":"+","x":9.37,"z":0.575},{"c":99,"s":"+","x":9.33,"z":0.62},
{"c":100,"s":"-","x":1.53,"z":0.335},{"c":100,"s":"-","x":1.55,"z":0.28},{"c":100,"s":"-","x":1.53,"z":0.225},{"c":100,"s":"-","x":1.51,"z":0.28},
{"c":101,"s":"+","x":1.685,"z":0.52},{"c":101,"s":"+","x":1.763,"z":0.415},{"c":101,"s":"+","x":1.763,"z":0.205},{"c":101,"s":"+","x":1.685,"z":0.1},{"c":101,"s":"+","x":1.607,"z":0.205},{"c":101,"s":"+","x":1.607,"z":0.415},
{"c":102,"s":"+","x":1.68,"z":0.4},{"c":102,"s":"+","x":1.719,"z":0.33},{"c":102,"s":"+","x":1.719,"z":0.19},{"c":102,"s":"+","x":1.68,"z":0.12},{"c":102,"s":"+","x":1.641,"z":0.19},{"c":102,"s":"+","x":1.641,"z":0.33},
{"c":103,"s":"+","x":2.25,"z":0.215},{"c":103,"s":"+","x":2.298,"z":0.183},{"c":103,"s":"+","x":2.298,"z":0.118},{"c":103,"s":"+","x":2.25,"z":0.085},{"c":103,"s":"+","x":2.202,"z":0.118},{"c":103,"s":"+","x":2.202,"z":0.183},
{"c":104,"s":"-","x":2.55,"z":0.34},{"c":104,"s":"-","x":2.6,"z":0.27},{"c":104,"s":"-","x":2.6,"z":0.11},{"c":104,"s":"-","x":2.52,"z":0.04},{"c":104,"s":"-","x":2.44,"z":0.1},{"c":104,"s":"-","x":2.47,"z":0.25},
{"c":105,"s":"-","x":2.34,"z":0.88},{"c":105,"s":"-","x":2.35,"z":0.86},{"c":105,"s":"-","x":2.34,"z":0.84},{"c":105,"s":"-","x":2.33,"z":0.86},
{"c":106,"s":"+","x":2.557,"z":1.113},{"c":106,"s":"+","x":2.653,"z":1.021},{"c":106,"s":"+","x":2.676,"z":0.813},{"c":106,"s":"+","x":2.619,"z":0.604},{"c":106,"s":"+","x":2.509,"z":0.416},{"c":106,"s":"+","x":2.46,"z":0.396},{"c":106,"s":"+","x":2.427,"z":0.563},{"c":106,"s":"+","x":2.446,"z":0.896},{"c":106,"s":"+","x":2.485,"z":1.063},
{"c":107,"s":"+","x":2.58,"z":0.98},{"c":107,"s":"+","x":2.62,"z":0.885},{"c":107,"s":"+","x":2.6,"z":0.695},{"c":107,"s":"+","x":2.55,"z":0.6},{"c":107,"s":"+","x":2.5,"z":0.695},{"c":107,"s":"+","x":2.52,"z":0.885},
{"c":108,"s":"+","x":2.989,"z":1.279},{"c":108,"s":"+","x":3.06,"z":1.146},{"c":108,"s":"+","x":3.085,"z":0.896},{"c":108,"s":"+","x":3.118,"z":0.604},{"c":108,"s":"+","x":3.06,"z":0.479},{"c":108,"s":"+","x":2.964,"z":0.438},{"c":108,"s":"+","x":2.892,"z":0.521},{"c":108,"s":"+","x":2.82,"z":0.479},{"c":108,"s":"+","x":2.783,"z":0.563},{"c":108,"s":"+","x":2.82,"z":0.813},{"c":108,"s":"+","x":2.892,"z":1.063},
{"c":109,"s":"+","x":2.955,"z":0.79},{"c":109,"s":"+","x":2.962,"z":0.78},{"c":109,"s":"+","x":2.955,"z":0.77},{"c":109,"s":"+","x":2.948,"z":0.78},
{"c":110,"s":"+","x":2.82,"z":0.355},{"c":110,"s":"+","x":2.864,"z":0.298},{"c":110,"s":"+","x":2.864,"z":0.183},{"c":110,"s":"+","x":2.82,"z":0.125},{"c":110,"s":"+","x":2.777,"z":0.183},{"c":110,"s":"+","x":2.777,"z":0.298},
{"c":111,"s":"-","x":3.39,"z":0.83},{"c":111,"s":"-","x":3.429,"z":0.795},{"c":111,"s":"-","x":3.429,"z":0.725},{"c":111,"s":"-","x":3.39,"z":0.69},{"c":111,"s":"-","x":3.351,"z":0.725},{"c":111,"s":"-","x":3.351,"z":0.795},
{"c":112,"s":"+","x":3.67,"z":1.03},{"c":112,"s":"+","x":3.68,"z":1.0},{"c":112,"s":"+","x":3.67,"z":0.97},{"c":112,"s":"+","x":3.66,"z":1.0},
{"c":113,"s":"-","x":4.165,"z":0.946},{"c":113,"s":"-","x":4.237,"z":0.813},{"c":113,"s":"-","x":4.261,"z":0.604},{"c":113,"s":"-","x":4.356,"z":0.521},{"c":113,"s":"-","x":4.332,"z":0.416},{"c":113,"s":"-","x":4.212,"z":0.375},{"c":113,"s":"-","x":4.116,"z":0.438},{"c":113,"s":"-","x":4.092,"z":0.646},{"c":113,"s":"-","x":4.116,"z":0.854},
{"c":114,"s":"-","x":4.19,"z":0.79},{"c":114,"s":"-","x":4.225,"z":0.74},{"c":114,"s":"-","x":4.225,"z":0.64},{"c":114,"s":"-","x":4.19,"z":0.59},{"c":114,"s":"-","x":4.155,"z":0.64},{"c":114,"s":"-","x":4.155,"z":0.74},
{"c":115,"s":"-","x":4.46,"z":0.935},{"c":115,"s":"-","x":4.47,"z":0.91},{"c":115,"s":"-","x":4.46,"z":0.885},{"c":115,"s":"-","x":4.45,"z":0.91},
{"c":116,"s":"-","x":4.644,"z":1.938},{"c":116,"s":"-","x":4.716,"z":1.916},{"c":116,"s":"-","x":4.74,"z":1.729},{"c":116,"s":"-","x":4.716,"z":1.479},{"c":116,"s":"-","x":4.596,"z":1.438},{"c":116,"s":"-","x":4.5,"z":1.459},{"c":116,"s":"-","x":4.428,"z":1.646},{"c":116,"s":"-","x":4.452,"z":1.834},
{"c":117,"s":"+","x":5.052,"z":2.029},{"c":117,"s":"+","x":5.22,"z":1.938},{"c":117,"s":"+","x":5.317,"z":1.729},{"c":117,"s":"+","x":5.388,"z":1.479},{"c":117,"s":"+","x":5.412,"z":1.188},{"c":117,"s":"+","x":5.34,"z":1.013},{"c":117,"s":"+","x":5.268,"z":1.041},{"c":117,"s":"+","x":5.1,"z":1.229},{"c":117,"s":"+","x":4.956,"z":1.438},{"c":117,"s":"+","x":4.884,"z":1.688},{"c":117,"s":"+","x":4.899,"z":1.896},
{"c":118,"s":"+","x":5.004,"z":1.75},{"c":118,"s":"+","x":5.076,"z":1.804},{"c":118,"s":"+","x":5.196,"z":1.791},{"c":118,"s":"+","x":5.292,"z":1.604},{"c":118,"s":"+","x":5.34,"z":1.354},{"c":118,"s":"+","x":5.292,"z":1.271},{"c":118,"s":"+","x":5.22,"z":1.375},{"c":118,"s":"+","x":5.148,"z":1.563},{"c":118,"s":"+","x":5.028,"z":1.666},
{"c":119,"s":"-","x":5.58,"z":2.146},{"c":119,"s":"-","x":5.82,"z":2.196},{"c":119,"s":"-","x":5.964,"z":2.104},{"c":119,"s":"-","x":6.036,"z":1.896},{"c":119,"s":"-","x":6.058,"z":1.604},{"c":119,"s":"-","x":6.012,"z":1.313},{"c":119,"s":"-","x":5.916,"z":1.063},{"c":119,"s":"-","x":5.844,"z":0.813},{"c":119,"s":"-","x":5.868,"z":0.563},{"c":119,"s":"-","x":5.82,"z":0.416},{"c":119,"s":"-","x":5.772,"z":0.396},{"c":119,"s":"-","x":5.7,"z":0.479},{"c":119,"s":"-","x":5.676,"z":0.854},{"c":119,"s":"-","x":5.58,"z":1.146},{"c":119,"s":"-","x":5.508,"z":1.521},{"c":119,"s":"-","x":5.475,"z":1.938},
{"c":120,"s":"-","x":5.645,"z":1.665},{"c":120,"s":"-","x":5.689,"z":1.603},{"c":120,"s":"-","x":5.689,"z":1.478},{"c":120,"s":"-","x":5.645,"z":1.415},{"c":120,"s":"-","x":5.602,"z":1.478},{"c":120,"s":"-","x":5.602,"z":1.603},
{"c":121,"s":"+","x":5.34,"z":0.65},{"c":121,"s":"+","x":5.37,"z":0.58},{"c":121,"s":"+","x":5.33,"z":0.47},{"c":121,"s":"+","x":5.28,"z":0.44},{"c":121,"s":"+","x":5.25,"z":0.51},{"c":121,"s":"+","x":5.29,"z":0.62},
{"c":122,"s":"+","x":7.269,"z":2.354},{"c":122,"s":"+","x":7.298,"z":2.481},{"c":122,"s":"+","x":7.452,"z":2.488},{"c":122,"s":"+","x":7.571,"z":2.459},{"c":122,"s":"+","x":7.693,"z":2.313},{"c":122,"s":"+","x":7.837,"z":2.188},{"c":122,"s":"+","x":7.981,"z":2.021},{"c":122,"s":"+","x":8.076,"z":1.729},{"c":122,"s":"+","x":8.1,"z":1.438},{"c":122,"s":"+","x":8.004,"z":1.229},{"c":122,"s":"+","x":8.076,"z":1.104},{"c":122,"s":"+","x":7.981,"z":0.979},{"c":122,"s":"+","x":8.004,"z":0.813},{"c":122,"s":"+","x":7.86,"z":0.834},{"c":122,"s":"+","x":7.74,"z":0.813},{"c":122,"s":"+","x":7.596,"z":0.813},{"c":122,"s":"+","x":7.452,"z":0.834},{"c":122,"s":"+","x":7.428,"z":0.979},{"c":122,"s":"+","x":7.404,"z":1.313},{"c":122,"s":"+","x":7.38,"z":1.646},{"c":122,"s":"+","x":7.308,"z":1.771},{"c":122,"s":"+","x":7.284,"z":2.063},
{"c":123,"s":"+","x":7.43,"z":2.355},{"c":123,"s":"+","x":7.5,"z":2.258},{"c":123,"s":"+","x":7.5,"z":2.063},{"c":123,"s":"+","x":7.43,"z":1.965},{"c":123,"s":"+","x":7.36,"z":2.063},{"c":123,"s":"+","x":7.36,"z":2.258},
{"c":124,"s":"+","x":7.788,"z":1.763},{"c":124,"s":"+","x":7.884,"z":1.688},{"c":124,"s":"+","x":7.981,"z":1.521},{"c":124,"s":"+","x":8.017,"z":1.354},{"c":124,"s":"+","x":7.956,"z":1.25},{"c":124,"s":"+","x":7.837,"z":1.238},{"c":124,"s":"+","x":7.74,"z":1.396},{"c":124,"s":"+","x":7.73,"z":1.646},
{"c":125,"s":"+","x":8.11,"z":1.0},{"c":125,"s":"+","x":8.117,"z":0.99},{"c":125,"s":"+","x":8.11,"z":0.98},{"c":125,"s":"+","x":8.103,"z":0.99},
{"c":126,"s":"-","x":8.341,"z":1.979},{"c":126,"s":"-","x":8.436,"z":1.988},{"c":126,"s":"-","x":8.557,"z":1.938},{"c":126,"s":"-","x":8.676,"z":1.729},{"c":126,"s":"-","x":8.715,"z":1.438},{"c":126,"s":"-","x":8.652,"z":1.354},{"c":126,"s":"-","x":8.557,"z":1.313},{"c":126,"s":"-","x":8.557,"z":1.146},{"c":126,"s":"-","x":8.46,"z":1.188},{"c":126,"s":"-","x":8.388,"z":1.229},{"c":126,"s":"-","x":8.268,"z":1.271},{"c":126,"s":"-","x":8.22,"z":1.521},{"c":126,"s":"-","x":8.268,"z":1.813},
{"c":127,"s":"-","x":8.868,"z":1.221},{"c":127,"s":"-","x":8.964,"z":1.146},{"c":127,"s":"-","x":9.036,"z":0.896},{"c":127,"s":"-","x":9.06,"z":0.688},{"c":127,"s":"-","x":9.108,"z":0.479},{"c":127,"s":"-","x":9.036,"z":0.313},{"c":127,"s":"-","x":8.916,"z":0.25},{"c":127,"s":"-","x":8.772,"z":0.291},{"c":127,"s":"-","x":8.676,"z":0.604},{"c":127,"s":"-","x":8.748,"z":0.813},{"c":127,"s":"-","x":8.82,"z":1.021},
{"c":128,"s":"+","x":10.0,"z":1.79},{"c":128,"s":"+","x":9.9,"z":1.813},{"c":128,"s":"+","x":9.708,"z":1.875},{"c":128,"s":"+","x":9.564,"z":1.979},{"c":128,"s":"+","x":9.468,"z":2.104},{"c":128,"s":"+","x":9.372,"z":2.125},{"c":128,"s":"+","x":9.3,"z":2.041},{"c":128,"s":"+","x":9.324,"z":1.938},{"c":128,"s":"+","x":9.42,"z":1.854},{"c":128,"s":"+","x":9.444,"z":1.604},{"c":128,"s":"+","x":9.42,"z":1.313},{"c":128,"s":"+","x":9.468,"z":1.021},{"c":128,"s":"+","x":9.564,"z":0.938},{"c":128,"s":"+","x":9.42,"z":0.875},{"c":128,"s":"+","x":9.396,"z":0.688},{"c":128,"s":"+","x":9.612,"z":0.541},{"c":128,"s":"+","x":9.804,"z":0.459},{"c":128,"s":"+","x":10.0,"z":0.416},{"c":128,"s":"+","x":10.01,"z":1.1},
{"c":129,"s":"+","x":9.61,"z":1.49},{"c":129,"s":"+","x":9.649,"z":1.45},{"c":129,"s":"+","x":9.649,"z":1.37},{"c":129,"s":"+","x":9.61,"z":1.33},{"c":129,"s":"+","x":9.571,"z":1.37},{"c":129,"s":"+","x":9.571,"z":1.45},
{"c":130,"s":"+","x":1.919,"z":1.354},{"c":130,"s":"+","x":2.378,"z":0.988}
],
"labels":[
{"p":0,"k":"t","t":"t + 0","x":-0.755,"z":2.21},
{"p":0,"k":"m","t":"M3","x":1.505,"z":0.79},
{"p":0,"k":"m","t":"M2","x":2.86,"z":1.26},
{"p":0,"k":"m","t":"M1","x":4.8,"z":1.45},
{"p":0,"k":"m","t":"M0","x":5.71,"z":2.25},
{"p":1,"k":"t","t":"t + 5","x":-0.8,"z":2.15},
{"p":1,"k":"m","t":"M3","x":3.125,"z":1.86},
{"p":1,"k":"m","t":"M4","x":2.17,"z":0.81},
{"p":1,"k":"m","t":"M2","x":4.21,"z":1.275},
{"p":1,"k":"m","t":"M1","x":6.3,"z":1.59},
{"p":1,"k":"m","t":"M0","x":7.9,"z":2.24},
{"p":2,"k":"t","t":"t + 10","x":-0.83,"z":2.225},
{"p":2,"k":"m","t":"M5","x":2.19,"z":1.25},
{"p":2,"k":"m","t":"M4","x":3.29,"z":1.31},
{"p":2,"k":"m","t":"M3","x":4.39,"z":2.16},
{"p":2,"k":"m","t":"(M1+M0)","x":7.32,"z":2.02},
{"p":2,"k":"m","t":"M2","x":5.61,"z":0.425},
{"p":3,"k":"t","t":"t + 15","x":-0.8,"z":2.22},
{"p":3,"k":"m","t":"M5","x":3.41,"z":2.04},
{"p":3,"k":"m","t":"M6","x":2.55,"z":1.06},
{"p":3,"k":"m","t":"M7","x":1.79,"z":0.77},
{"p":3,"k":"m","t":"M8","x":1.05,"z":0.27},
{"p":3,"k":"m","t":"M4","x":4.3,"z":0.26},
{"p":3,"k":"m","t":"M3","x":6.06,"z":2.275},
{"p":3,"k":"m","t":"M?","x":7.8,"z":1.9},
{"p":3,"k":"m","t":"M1","x":8.84,"z":2.26},
{"p":3,"k":"m","t":"M2","x":7.27,"z":0.31},
{"p":4,"k":"t","t":"t + 20","x":-0.8,"z":2.175},
{"p":4,"k":"m","t":"(M7+M8)","x":1.525,"z":1.55},
{"p":4,"k":"m","t":"M6","x":3.03,"z":1.54},
{"p":4,"k":"m","t":"M9","x":1.43,"z":0.75},
{"p":4,"k":"m","t":"M5","x":4.98,"z":2.24},
{"p":4,"k":"m","t":"M3*","x":6.78,"z":2.11},
{"p":4,"k":"m","t":"M3","x":7.72,"z":1.08},
{"p":4,"k":"m","t":"M4","x":5.31,"z":0.22}
],
"tracks":[
{"tr":"A","x":1.822,"g":12.26},{"tr":"A","x":7.985,"g":1.25},
{"tr":"B","x":4.616,"g":12.8},{"tr":"B","x":9.468,"g":4.24},
{"tr":"C","x":2.139,"g":6.84},{"tr":"C","x":5.364,"g":1.29}
]
},
"layer":[
{"layer":[
{"data":{"name":"contours"},"transform":[{"filter":"datum.c>=1 && datum.c<=25"}],
"mark":{"type":"line","interpolate":"cardinal-closed","color":"black","strokeWidth":1.2},
"encoding":{
"x":{"field":"x","type":"quantitative","scale":{"domain":[-1,10],"nice":false,"zero":false},"axis":{"orient":"bottom","offset":-928,"values":[-1,0,1,2,3,4,5,6,7,8,9,10],"labels":false,"title":null}},
"y":{"field":"z","type":"quantitative","scale":{"domain":[0,2.5],"range":[200,0],"nice":false,"zero":false},"axis":{"orient":"left","values":[0,0.5,1,1.5,2],"labelExpr":"datum.value % 1 === 0 ? format(datum.value, 'd') : ''","title":null}},
"detail":{"field":"c","type":"nominal"},
"order":{"value":null},
"strokeDash":{"field":"s","type":"nominal","scale":{"domain":["+","-"],"range":[[1,0],[3,2]]},"legend":null}}},
{"data":{"values":[{}]},"mark":{"type":"rect","filled":false,"stroke":"black","strokeWidth":2.8},"encoding":{"x":{"datum":-1},"x2":{"datum":10},"y":{"datum":0},"y2":{"datum":2.5}}},
{"data":{"name":"labels"},"transform":[{"filter":"datum.p==0 && datum.k=='m'"}],"mark":{"type":"text","font":"Open Sans","fontSize":24,"align":"center","baseline":"middle","color":"black"},"encoding":{"x":{"field":"x","type":"quantitative"},"y":{"field":"z","type":"quantitative"},"text":{"field":"t"}}},
{"data":{"name":"labels"},"transform":[{"filter":"datum.p==0 && datum.k=='t'"}],"mark":{"type":"text","font":"Open Sans","fontSize":24,"align":"left","baseline":"middle","color":"black"},"encoding":{"x":{"field":"x","type":"quantitative"},"y":{"field":"z","type":"quantitative"},"text":{"field":"t"}}}
]},
{"layer":[
{"data":{"name":"contours"},"transform":[{"filter":"datum.c>=26 && datum.c<=50"}],
"mark":{"type":"line","interpolate":"cardinal-closed","color":"black","strokeWidth":1.2},
"encoding":{
"x":{"field":"x","type":"quantitative","scale":{"domain":[-1,10],"nice":false,"zero":false},"axis":{"orient":"bottom","offset":-696,"values":[-1,0,1,2,3,4,5,6,7,8,9,10],"labels":false,"title":null}},
"y":{"field":"z","type":"quantitative","scale":{"domain":[0,2.5],"range":[432,232],"nice":false,"zero":false},"axis":{"orient":"left","values":[0,0.5,1,1.5,2],"labelExpr":"datum.value % 1 === 0 ? format(datum.value, 'd') : ''","title":null}},
"detail":{"field":"c","type":"nominal"},
"order":{"value":null},
"strokeDash":{"field":"s","type":"nominal","scale":{"domain":["+","-"],"range":[[1,0],[3,2]]},"legend":null}}},
{"data":{"values":[{}]},"mark":{"type":"rect","filled":false,"stroke":"black","strokeWidth":2.8},"encoding":{"x":{"datum":-1},"x2":{"datum":10},"y":{"datum":0},"y2":{"datum":2.5}}},
{"data":{"name":"labels"},"transform":[{"filter":"datum.p==1 && datum.k=='m'"}],"mark":{"type":"text","font":"Open Sans","fontSize":24,"align":"center","baseline":"middle","color":"black"},"encoding":{"x":{"field":"x","type":"quantitative"},"y":{"field":"z","type":"quantitative"},"text":{"field":"t"}}},
{"data":{"name":"labels"},"transform":[{"filter":"datum.p==1 && datum.k=='t'"}],"mark":{"type":"text","font":"Open Sans","fontSize":24,"align":"left","baseline":"middle","color":"black"},"encoding":{"x":{"field":"x","type":"quantitative"},"y":{"field":"z","type":"quantitative"},"text":{"field":"t"}}}
]},
{"layer":[
{"data":{"name":"contours"},"transform":[{"filter":"datum.c>=51 && datum.c<=72"}],
"mark":{"type":"line","interpolate":"cardinal-closed","color":"black","strokeWidth":1.2},
"encoding":{
"x":{"field":"x","type":"quantitative","scale":{"domain":[-1,10],"nice":false,"zero":false},"axis":{"orient":"bottom","offset":-464,"values":[-1,0,1,2,3,4,5,6,7,8,9,10],"labels":false,"title":null}},
"y":{"field":"z","type":"quantitative","scale":{"domain":[0,2.5],"range":[664,464],"nice":false,"zero":false},"axis":{"orient":"left","values":[0,0.5,1,1.5,2],"labelExpr":"datum.value % 1 === 0 ? format(datum.value, 'd') : ''","title":"z (km)","titleBaseline":"alphabetic","titleX":-64,"titleY":582}},
"detail":{"field":"c","type":"nominal"},
"order":{"value":null},
"strokeDash":{"field":"s","type":"nominal","scale":{"domain":["+","-"],"range":[[1,0],[3,2]]},"legend":null}}},
{"data":{"values":[{}]},"mark":{"type":"rect","filled":false,"stroke":"black","strokeWidth":2.8},"encoding":{"x":{"datum":-1},"x2":{"datum":10},"y":{"datum":0},"y2":{"datum":2.5}}},
{"data":{"name":"labels"},"transform":[{"filter":"datum.p==2 && datum.k=='m'"}],"mark":{"type":"text","font":"Open Sans","fontSize":24,"align":"center","baseline":"middle","color":"black"},"encoding":{"x":{"field":"x","type":"quantitative"},"y":{"field":"z","type":"quantitative"},"text":{"field":"t"}}},
{"data":{"name":"labels"},"transform":[{"filter":"datum.p==2 && datum.k=='t'"}],"mark":{"type":"text","font":"Open Sans","fontSize":24,"align":"left","baseline":"middle","color":"black"},"encoding":{"x":{"field":"x","type":"quantitative"},"y":{"field":"z","type":"quantitative"},"text":{"field":"t"}}}
]},
{"layer":[
{"data":{"name":"contours"},"transform":[{"filter":"datum.c>=73 && datum.c<=99"}],
"mark":{"type":"line","interpolate":"cardinal-closed","color":"black","strokeWidth":1.2},
"encoding":{
"x":{"field":"x","type":"quantitative","scale":{"domain":[-1,10],"nice":false,"zero":false},"axis":{"orient":"bottom","offset":-232,"values":[-1,0,1,2,3,4,5,6,7,8,9,10],"labels":false,"title":null}},
"y":{"field":"z","type":"quantitative","scale":{"domain":[0,2.5],"range":[896,696],"nice":false,"zero":false},"axis":{"orient":"left","values":[0,0.5,1,1.5,2],"labelExpr":"datum.value % 1 === 0 ? format(datum.value, 'd') : ''","title":null}},
"detail":{"field":"c","type":"nominal"},
"order":{"value":null},
"strokeDash":{"field":"s","type":"nominal","scale":{"domain":["+","-"],"range":[[1,0],[3,2]]},"legend":null}}},
{"data":{"values":[{}]},"mark":{"type":"rect","filled":false,"stroke":"black","strokeWidth":2.8},"encoding":{"x":{"datum":-1},"x2":{"datum":10},"y":{"datum":0},"y2":{"datum":2.5}}},
{"data":{"name":"labels"},"transform":[{"filter":"datum.p==3 && datum.k=='m'"}],"mark":{"type":"text","font":"Open Sans","fontSize":24,"align":"center","baseline":"middle","color":"black"},"encoding":{"x":{"field":"x","type":"quantitative"},"y":{"field":"z","type":"quantitative"},"text":{"field":"t"}}},
{"data":{"name":"labels"},"transform":[{"filter":"datum.p==3 && datum.k=='t'"}],"mark":{"type":"text","font":"Open Sans","fontSize":24,"align":"left","baseline":"middle","color":"black"},"encoding":{"x":{"field":"x","type":"quantitative"},"y":{"field":"z","type":"quantitative"},"text":{"field":"t"}}}
]},
{"layer":[
{"data":{"name":"contours"},"transform":[{"filter":"datum.c>=100 && datum.c<=130"}],
"mark":{"type":"line","interpolate":"cardinal-closed","color":"black","strokeWidth":1.2},
"encoding":{
"x":{"field":"x","type":"quantitative","scale":{"domain":[-1,10],"nice":false,"zero":false},"axis":{"orient":"bottom","offset":0,"values":[-1,0,1,2,3,4,5,6,7,8,9,10],"format":"d","labels":true,"labelPadding":3,"title":"x (km)","titleBaseline":"alphabetic","titleY":58}},
"y":{"field":"z","type":"quantitative","scale":{"domain":[0,2.5],"range":[1128,928],"nice":false,"zero":false},"axis":{"orient":"left","values":[0,0.5,1,1.5,2],"labelExpr":"datum.value % 1 === 0 ? format(datum.value, 'd') : ''","title":null}},
"detail":{"field":"c","type":"nominal"},
"order":{"value":null},
"strokeDash":{"field":"s","type":"nominal","scale":{"domain":["+","-"],"range":[[1,0],[3,2]]},"legend":null}}},
{"data":{"values":[{}]},"mark":{"type":"rect","filled":false,"stroke":"black","strokeWidth":2.8},"encoding":{"x":{"datum":-1},"x2":{"datum":10},"y":{"datum":0},"y2":{"datum":2.5}}},
{"data":{"name":"labels"},"transform":[{"filter":"datum.p==4 && datum.k=='m'"}],"mark":{"type":"text","font":"Open Sans","fontSize":24,"align":"center","baseline":"middle","color":"black"},"encoding":{"x":{"field":"x","type":"quantitative"},"y":{"field":"z","type":"quantitative"},"text":{"field":"t"}}},
{"data":{"name":"labels"},"transform":[{"filter":"datum.p==4 && datum.k=='t'"}],"mark":{"type":"text","font":"Open Sans","fontSize":24,"align":"left","baseline":"middle","color":"black"},"encoding":{"x":{"field":"x","type":"quantitative"},"y":{"field":"z","type":"quantitative"},"text":{"field":"t"}}}
]},
{"data":{"name":"tracks"},"mark":{"type":"line","color":"black","strokeWidth":2.5,"strokeDash":[10,7]},
"encoding":{"x":{"field":"x","type":"quantitative","scale":{"domain":[-1,10],"nice":false,"zero":false},"axis":null},"y":{"field":"g","type":"quantitative","scale":{"domain":[0,14.1],"range":[1128,0],"nice":false,"zero":false},"axis":null},"detail":{"field":"tr","type":"nominal"},"order":{"value":null}}}
],
"resolve":{"scale":{"x":"independent","y":"independent"}}
}
